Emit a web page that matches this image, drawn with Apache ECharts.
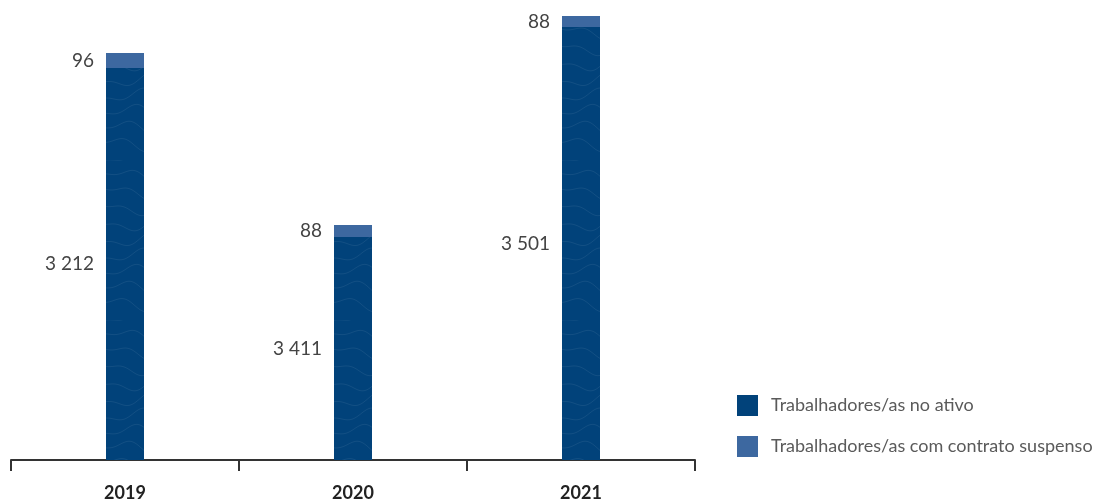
<!DOCTYPE html>
<html><head><meta charset="utf-8">
<script src="https://cdn.jsdelivr.net/npm/echarts@6/dist/echarts.min.js"></script>
<style>html,body{margin:0;padding:0;background:#fff}#c{width:1110px;height:502px}</style>
</head><body><div id="c"></div>
<script>
// Categories
const years = ['2019', '2020', '2021'];
// Printed values (labels shown on chart)
const activeLabels = ['3 212', '3 411', '3 501'];
const suspendedLabels = ['96', '88', '88'];
// Bar lengths as drawn in the picture (relative units, axis 0..460)
const activeHeights = [392, 223, 433];
const suspendedHeights = [15, 12, 11];
const seriesNames = ['Trabalhadores/as no ativo', 'Trabalhadores/as com contrato suspenso'];

function texture(base) {
  const cv = document.createElement('canvas');
  cv.width = 76; cv.height = 160;
  const g = cv.getContext('2d');
  g.fillStyle = base; g.fillRect(0, 0, 76, 160);
  g.strokeStyle = 'rgba(255,255,255,0.07)';
  g.lineWidth = 1;
  for (let k = 0; k < 10; k++) {
    g.beginPath();
    for (let x = 0; x <= 76; x += 2) {
      const y = k * 16 + 5 * Math.sin((x / 76) * Math.PI * 2 + k * 0.9) + 3 * Math.sin((x / 38) * Math.PI * 2 + k);
      if (x === 0) g.moveTo(x, y); else g.lineTo(x, y);
    }
    g.stroke();
  }
  return cv;
}

const chart = echarts.init(document.getElementById('c'));
const labelFont = { fontFamily: 'Lato', fontSize: 19, color: '#444' };
chart.setOption({
  animation: false,
  grid: { left: 11, right: 415, top: 0, bottom: 42 },
  legend: {
    orient: 'vertical', left: 732, top: 390, itemWidth: 21, itemHeight: 21, itemGap: 20,
    textStyle: { fontFamily: 'Lato', fontSize: 18, color: '#5a5a5a', padding: [0, 0, 0, 8] },
    data: [
      { name: seriesNames[0], itemStyle: { color: '#01427a' } },
      { name: seriesNames[1], itemStyle: { color: '#3d68a0' } }
    ],
    icon: 'rect'
  },
  xAxis: {
    type: 'category', data: years, boundaryGap: true,
    axisLine: { show: true, lineStyle: { color: '#333', width: 2 } },
    axisTick: { show: true, alignWithLabel: false, interval: 0, length: 11, lineStyle: { color: '#333', width: 2 } },
    axisLabel: { margin: 24, fontFamily: 'Lato', fontWeight: 'bold', fontSize: 18, color: '#222' }
  },
  yAxis: { type: 'value', min: 0, max: 460, show: false, splitLine: { show: false } },
  series: [
    {
      name: seriesNames[0], type: 'bar', stack: 's', barWidth: 38,
      data: activeHeights,
      itemStyle: { color: { image: texture('#01427a'), repeat: 'repeat' } },
      label: { show: true, position: 'left', distance: 12, ...labelFont,
        formatter: p => activeLabels[p.dataIndex] }
    },
    {
      name: seriesNames[1], type: 'bar', stack: 's', barWidth: 38,
      data: suspendedHeights,
      itemStyle: { color: '#3d68a0' },
      label: { show: true, position: 'left', distance: 12, ...labelFont,
        formatter: p => suspendedLabels[p.dataIndex] }
    }
  ]
});
</script></body></html>
